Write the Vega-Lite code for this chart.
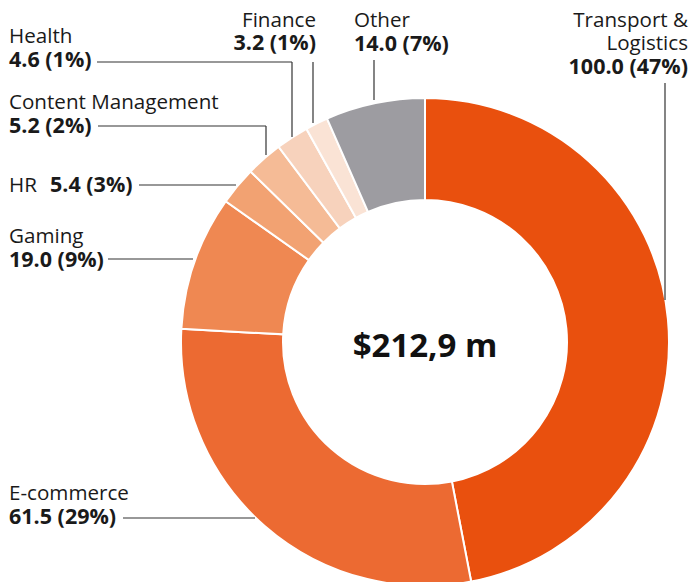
{
  "$schema": "https://vega.github.io/schema/vega-lite/v6.json",
  "width": 692,
  "height": 582,
  "autosize": {"type": "none"},
  "padding": 0,
  "background": "white",
  "config": {"view": {"stroke": null}, "font": "Open Sans"},
  "datasets": {
    "segments": [
      {"category": "Transport & Logistics", "value": 100.0, "pct": 47, "order": 1},
      {"category": "E-commerce", "value": 61.5, "pct": 29, "order": 2},
      {"category": "Gaming", "value": 19.0, "pct": 9, "order": 3},
      {"category": "HR", "value": 5.4, "pct": 3, "order": 4},
      {"category": "Content Management", "value": 5.2, "pct": 2, "order": 5},
      {"category": "Health", "value": 4.6, "pct": 1, "order": 6},
      {"category": "Finance", "value": 3.2, "pct": 1, "order": 7},
      {"category": "Other", "value": 14.0, "pct": 7, "order": 8}
    ],
    "layout": [
      {"category": "Transport & Logistics", "name": "Transport &\nLogistics", "nx": 688, "ny": 27, "vx": 688, "vy": 74, "side": "right"},
      {"category": "E-commerce", "name": "E-commerce", "nx": 9, "ny": 500, "vx": 9, "vy": 524, "side": "left"},
      {"category": "Gaming", "name": "Gaming", "nx": 9, "ny": 243, "vx": 9, "vy": 267, "side": "left"},
      {"category": "HR", "name": "HR", "nx": 9, "ny": 192, "vx": 50, "vy": 192, "side": "left"},
      {"category": "Content Management", "name": "Content Management", "nx": 9, "ny": 109, "vx": 9, "vy": 133, "side": "left"},
      {"category": "Health", "name": "Health", "nx": 9, "ny": 43, "vx": 9, "vy": 67, "side": "left"},
      {"category": "Finance", "name": "Finance", "nx": 316, "ny": 27, "vx": 316, "vy": 50, "side": "right"},
      {"category": "Other", "name": "Other", "nx": 354, "ny": 27, "vx": 354, "vy": 51, "side": "left"}
    ],
    "leaders": [
      {"category": "Health", "x": 97, "y": 62, "x2": 292, "y2": 62},
      {"category": "Health", "x": 292, "y": 62, "x2": 292, "y2": 137},
      {"category": "Finance", "x": 313, "y": 62, "x2": 313, "y2": 123},
      {"category": "Content Management", "x": 98, "y": 126, "x2": 266, "y2": 126},
      {"category": "Content Management", "x": 266, "y": 126, "x2": 266, "y2": 155},
      {"category": "HR", "x": 139, "y": 185, "x2": 236, "y2": 185},
      {"category": "Gaming", "x": 108, "y": 259, "x2": 193, "y2": 259},
      {"category": "Other", "x": 374, "y": 60, "x2": 374, "y2": 100},
      {"category": "Transport & Logistics", "x": 665, "y": 83, "x2": 665, "y2": 300},
      {"category": "E-commerce", "x": 123, "y": 518, "x2": 255, "y2": 518}
    ]
  },
  "encoding": {
    "x": {"type": "quantitative", "scale": {"domain": [0, 692], "nice": false, "zero": false}, "axis": null},
    "y": {"type": "quantitative", "scale": {"domain": [0, 582], "nice": false, "zero": false, "reverse": true}, "axis": null}
  },
  "layer": [
    {
      "data": {"name": "segments"},
      "mark": {"type": "arc", "radius": 244, "radius2": 142, "stroke": "white", "strokeWidth": 2},
      "encoding": {
        "x": {"datum": 425, "type": "quantitative"},
        "y": {"datum": 342, "type": "quantitative"},
        "theta": {"field": "value", "type": "quantitative", "stack": true},
        "order": {"field": "order", "type": "quantitative", "sort": "ascending"},
        "color": {
          "field": "category", "type": "nominal", "legend": null,
          "scale": {
            "domain": ["Transport & Logistics", "E-commerce", "Gaming", "HR", "Content Management", "Health", "Finance", "Other"],
            "range": ["#E9500E", "#EC6A32", "#EF8852", "#F2A272", "#F5BB96", "#F7D2BC", "#FAE3D5", "#9D9CA1"]
          }
        }
      }
    },
    {
      "data": {"name": "leaders"},
      "mark": {"type": "rule", "color": "#333333", "strokeWidth": 1.2},
      "encoding": {
        "x": {"field": "x", "type": "quantitative"},
        "y": {"field": "y", "type": "quantitative"},
        "x2": {"field": "x2"},
        "y2": {"field": "y2"}
      }
    },
    {
      "data": {"name": "segments"},
      "transform": [
        {"lookup": "category", "from": {"data": {"name": "layout"}, "key": "category", "fields": ["name", "nx", "ny", "vx", "vy", "side"]}},
        {"filter": "datum.side === 'left'"}
      ],
      "mark": {"type": "text", "align": "left", "baseline": "alphabetic", "fontSize": 20.6, "color": "#1a1a1a", "lineBreak": "\n", "lineHeight": 23},
      "encoding": {
        "x": {"field": "nx", "type": "quantitative"},
        "y": {"field": "ny", "type": "quantitative"},
        "text": {"field": "name", "type": "nominal"}
      }
    },
    {
      "data": {"name": "segments"},
      "transform": [
        {"lookup": "category", "from": {"data": {"name": "layout"}, "key": "category", "fields": ["name", "nx", "ny", "vx", "vy", "side"]}},
        {"filter": "datum.side === 'right'"}
      ],
      "mark": {"type": "text", "align": "right", "baseline": "alphabetic", "fontSize": 20.6, "color": "#1a1a1a", "lineBreak": "\n", "lineHeight": 23},
      "encoding": {
        "x": {"field": "nx", "type": "quantitative"},
        "y": {"field": "ny", "type": "quantitative"},
        "text": {"field": "name", "type": "nominal"}
      }
    },
    {
      "data": {"name": "segments"},
      "transform": [
        {"lookup": "category", "from": {"data": {"name": "layout"}, "key": "category", "fields": ["name", "nx", "ny", "vx", "vy", "side"]}},
        {"filter": "datum.side === 'left'"},
        {"calculate": "format(datum.value, '.1f') + ' (' + datum.pct + '%)'", "as": "vlabel"}
      ],
      "mark": {"type": "text", "align": "left", "baseline": "alphabetic", "fontSize": 21.5, "fontWeight": "bold", "color": "#1a1a1a"},
      "encoding": {
        "x": {"field": "vx", "type": "quantitative"},
        "y": {"field": "vy", "type": "quantitative"},
        "text": {"field": "vlabel", "type": "nominal"}
      }
    },
    {
      "data": {"name": "segments"},
      "transform": [
        {"lookup": "category", "from": {"data": {"name": "layout"}, "key": "category", "fields": ["name", "nx", "ny", "vx", "vy", "side"]}},
        {"filter": "datum.side === 'right'"},
        {"calculate": "format(datum.value, '.1f') + ' (' + datum.pct + '%)'", "as": "vlabel"}
      ],
      "mark": {"type": "text", "align": "right", "baseline": "alphabetic", "fontSize": 21.5, "fontWeight": "bold", "color": "#1a1a1a"},
      "encoding": {
        "x": {"field": "vx", "type": "quantitative"},
        "y": {"field": "vy", "type": "quantitative"},
        "text": {"field": "vlabel", "type": "nominal"}
      }
    },
    {
      "data": {"values": [{"label": "$212,9 m"}]},
      "mark": {"type": "text", "align": "center", "baseline": "alphabetic", "fontSize": 33, "fontWeight": "bold", "color": "#111111"},
      "encoding": {
        "x": {"datum": 425, "type": "quantitative"},
        "y": {"datum": 357, "type": "quantitative"},
        "text": {"field": "label", "type": "nominal"}
      }
    }
  ]
}
